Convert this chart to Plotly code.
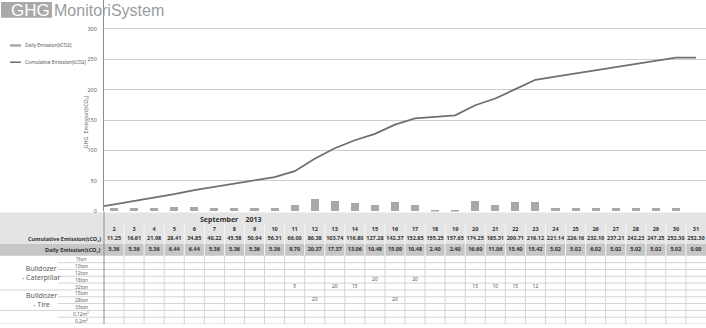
import plotly.graph_objects as go

# ---------------- data ----------------
days = list(range(2, 32))
cumulative = [11.25, 16.61, 21.98, 28.41, 34.85, 40.22, 45.58, 50.94, 56.31, 66.00,
              86.38, 103.74, 116.80, 127.28, 142.37, 152.85, 155.25, 157.65, 174.25, 185.31,
              200.71, 216.12, 221.14, 226.16, 232.19, 237.21, 242.23, 247.25, 252.30, 252.30]
daily = [5.36, 5.36, 5.36, 6.44, 6.44, 5.36, 5.36, 5.36, 5.36, 9.70,
         20.37, 17.37, 13.06, 10.48, 15.09, 10.48, 2.40, 2.40, 16.60, 11.06,
         15.40, 15.42, 5.02, 5.02, 6.02, 5.02, 5.02, 5.02, 5.02, 0.00]
prior_day = 1
prior_cumulative = 5.89

month_label = "September"
year_label = "2013"

group_names = ["Bulldozer<br>- Caterpillar", "Bulldozer<br>- Tire", ""]
group_rows = [["7ton", "10ton", "12ton", "18ton", "32ton"],
              ["15ton", "28ton", "33ton"],
              ["0.12m³", "0.2m³"]]

usage_days = [11, 12, 13, 14, 15, 16, 17, 20, 21, 22, 23]
usage_rows = ["32ton", "28ton", "32ton", "32ton", "18ton", "28ton", "18ton",
              "32ton", "32ton", "32ton", "32ton"]
usage_vals = [5, 20, 20, 15, 20, 20, 20, 15, 10, 15, 12]

y_ticks = [0, 50, 100, 150, 200, 250, 300]

# ---------------- geometry helpers ----------------
W, H = 706, 328
def fx(px):
    return px / W
def fy(py):
    return 1 - py / H

PLOT_LEFT = 104
CHART_BOTTOM = 214
PX_PER_UNIT = 30.83 / 50

# table rows (y2 units = pixels below CHART_BOTTOM)
ROW_SEPT, ROW_DAY, ROW_CUM, ROW_DAILY = 8, 18, 28, 39
EQ_TOP, EQ_H = 45, 6.9
equip_rows = [r for g in group_rows for r in g]
eq_center = {r: EQ_TOP + EQ_H * (i + 0.5) for i, r in enumerate(equip_rows)}

FONT = "Noto Sans"
TITLE_FONT = "Liberation Sans"
fig = go.Figure()

fig.add_trace(go.Bar(x=days, y=daily, width=0.4, marker_color="#a8a8a8",
                     marker_line_width=0, xaxis="x", yaxis="y",
                     name="Daily Emission(tCO2)", showlegend=False))
fig.add_trace(go.Scatter(x=[prior_day] + days, y=[prior_cumulative] + cumulative,
                         mode="lines", line=dict(color="#6f6f6f", width=1.8),
                         xaxis="x", yaxis="y", name="Cumulative Emission(tCO2)",
                         showlegend=False))

def text_row(xs, ys, texts, size, color, bold=False):
    fig.add_trace(go.Scatter(x=xs, y=ys, text=texts, mode="text",
                             textfont=dict(family=FONT, size=size, color=color,
                                           weight="bold" if bold else "normal"),
                             xaxis="x", yaxis="y2", cliponaxis=False,
                             hoverinfo="skip", showlegend=False))

text_row(days, [ROW_DAY] * len(days), [str(d) for d in days], 5.5, "#333", True)
text_row(days, [ROW_CUM] * len(days), [f"{v:.2f}" for v in cumulative], 5.5, "#333", True)
text_row(days, [ROW_DAILY] * len(days), [f"{v:.2f}" for v in daily], 5.5, "#333", True)
text_row(usage_days, [eq_center[r] for r in usage_rows], [str(v) for v in usage_vals],
         5, "#555")

shapes = []
# header bands
shapes.append(dict(type="rect", xref="paper", yref="y2", x0=0, x1=1, y0=1, y1=33,
                   fillcolor="#e4e4e4", line_width=0, layer="below"))
shapes.append(dict(type="rect", xref="paper", yref="y2", x0=0, x1=1, y0=33, y1=EQ_TOP,
                   fillcolor="#c6c6c6", line_width=0, layer="below"))
# column separators
for d in days[:-1]:
    shapes.append(dict(type="line", xref="x", yref="y2", x0=d + 0.5, x1=d + 0.5,
                       y0=13, y1=EQ_TOP, line=dict(color="#f6f6f6", width=1), layer="below"))
    shapes.append(dict(type="line", xref="x", yref="y2", x0=d + 0.5, x1=d + 0.5,
                       y0=EQ_TOP, y1=114, line=dict(color="#d4d4d4", width=1), layer="below"))
# row separators in equipment block
boundaries = []
acc = 0
for g in group_rows:
    acc += len(g)
    boundaries.append(acc)
for k in range(1, len(equip_rows) + 1):
    yk = EQ_TOP + EQ_H * k
    x0 = 0 if k in boundaries else fx(58)
    shapes.append(dict(type="line", xref="paper", yref="y2", x0=x0, x1=1, y0=yk, y1=yk,
                       line=dict(color="#d4d4d4", width=1), layer="below"))
# vertical axis line through table
shapes.append(dict(type="line", xref="paper", yref="y2", x0=fx(PLOT_LEFT), x1=fx(PLOT_LEFT),
                   y0=0, y1=114, line=dict(color="#8c8c8c", width=1)))
# title box
shapes.append(dict(type="rect", xref="paper", yref="paper", x0=fx(1), x1=fx(52),
                   y0=fy(18), y1=fy(2), fillcolor="#a9a9a9", line_width=0))
# legend samples
shapes.append(dict(type="line", xref="paper", yref="paper", x0=fx(10), x1=fx(21),
                   y0=fy(46), y1=fy(46), line=dict(color="#a8a8a8", width=2.5)))
shapes.append(dict(type="line", xref="paper", yref="paper", x0=fx(10), x1=fx(21),
                   y0=fy(63), y1=fy(63), line=dict(color="#6f6f6f", width=1.5)))

ann = []
ann.append(dict(xref="paper", yref="paper", x=fx(52), y=fy(10.5), xanchor="right",
                yanchor="middle", text="GHG", showarrow=False,
                font=dict(family=TITLE_FONT, size=17, color="white")))
ann.append(dict(xref="paper", yref="paper", x=fx(52), y=fy(10.5), xanchor="left",
                yanchor="middle", text="MonitoriSystem", showarrow=False,
                font=dict(family=TITLE_FONT, size=16, color="#9c9c9c")))
ann.append(dict(xref="paper", yref="paper", x=fx(23), y=fy(46), xanchor="left",
                yanchor="middle", text="Daily Emission(tCO2)", showarrow=False,
                font=dict(family=FONT, size=4.8, color="#555")))
ann.append(dict(xref="paper", yref="paper", x=fx(23), y=fy(63), xanchor="left",
                yanchor="middle", text="Cumulative Emission(tCO2)", showarrow=False,
                font=dict(family=FONT, size=4.8, color="#555")))
ann.append(dict(xref="paper", yref="paper", x=fx(86), y=fy(124), xanchor="center",
                yanchor="middle", text="GHG  Emission(tCO₂)", textangle=-90,
                showarrow=False, font=dict(family=FONT, size=5.5, color="#666")))
ann.append(dict(xref="paper", yref="y2", x=fx(231), y=ROW_SEPT, xanchor="center",
                yanchor="middle", text=f"{month_label}    {year_label}", showarrow=False,
                font=dict(family=FONT, size=7, color="#333", weight="bold")))
ann.append(dict(xref="paper", yref="y2", x=fx(103), y=ROW_CUM, xanchor="right",
                yanchor="middle", text="Cumulative Emission(tCO₂)", showarrow=False,
                font=dict(family=FONT, size=5.5, color="#333", weight="bold")))
ann.append(dict(xref="paper", yref="y2", x=fx(103), y=ROW_DAILY, xanchor="right",
                yanchor="middle", text="Daily Emission(tCO₂)", showarrow=False,
                font=dict(family=FONT, size=5.5, color="#333", weight="bold")))
for r in equip_rows:
    ann.append(dict(xref="paper", yref="y2", x=fx(81), y=eq_center[r], xanchor="center",
                    yanchor="middle", text=r, showarrow=False,
                    font=dict(family=FONT, size=4.8, color="#666")))
start = 0
for name, rows in zip(group_names, group_rows):
    if name:
        yc = EQ_TOP + EQ_H * (start + len(rows) / 2)
        ann.append(dict(xref="paper", yref="y2", x=fx(41), y=yc, xanchor="center",
                        yanchor="middle", text=name, showarrow=False,
                        font=dict(family=FONT, size=7, color="#5a5a5a")))
    start += len(rows)

fig.update_layout(
    width=W, height=H, margin=dict(l=0, r=0, t=0, b=0),
    paper_bgcolor="white", plot_bgcolor="rgba(0,0,0,0)",
    showlegend=False, bargap=0,
    xaxis=dict(domain=[fx(PLOT_LEFT), 1], range=[1.5, 31.5], visible=False, anchor="y"),
    yaxis=dict(domain=[fy(CHART_BOTTOM), 1], range=[0, CHART_BOTTOM / PX_PER_UNIT],
               tickvals=y_ticks, showgrid=True, gridcolor="#cdcdcd", gridwidth=1,
               zeroline=False, showline=True, linecolor="#8c8c8c", linewidth=1,
               ticks="outside", ticklen=5, tickcolor="rgba(0,0,0,0)",
               tickfont=dict(family=FONT, size=5.5, color="#666"), anchor="x"),
    yaxis2=dict(domain=[0, fy(CHART_BOTTOM)], range=[114, 0], visible=False, anchor="x"),
    shapes=shapes, annotations=ann,
)

fig.write_html("out.html")
